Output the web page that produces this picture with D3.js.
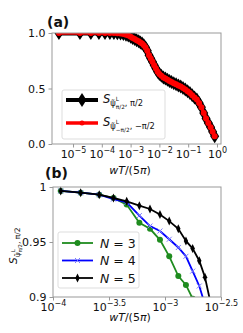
<!DOCTYPE html>
<html>
<head>
<meta charset="utf-8">
<script src="https://cdn.jsdelivr.net/npm/d3@7"></script>
<style>
  body { margin: 0; background: #fff; }
  text { font-family: "DejaVu Sans", sans-serif; fill: #111; }
</style>
</head>
<body>
<div id="fig"></div>
<script>
// panel (a): S vs wT/(5pi), log x
var wA = [3.24e-6, 1.74e-5, 4.17e-5, 7.94e-5, 1.29e-4, 1.91e-4, 2.63e-4, 3.47e-4, 4.47e-4, 5.62e-4,
          6.92e-4, 8.32e-4, 1.0e-3, 1.17e-3, 1.38e-3, 1.62e-3, 1.91e-3, 2.19e-3, 2.51e-3, 2.88e-3,
          3.31e-3, 3.80e-3, 4.37e-3, 5.01e-3, 5.75e-3, 6.61e-3, 7.59e-3, 8.71e-3, 0.0100, 0.0117,
          0.0138, 0.0162, 0.0191, 0.0224, 0.0263, 0.0316, 0.0380, 0.0457, 0.0550, 0.0661,
          0.0794, 0.0955, 0.115, 0.138, 0.166, 0.200, 0.240, 0.288, 0.347, 0.417,
          0.501, 0.603, 0.708, 0.832];
var sPlus = [1, 1, 1, 1, 1, 1, 1, 0.998, 0.995, 0.99,
             0.985, 0.977, 0.967, 0.955, 0.945, 0.935, 0.925, 0.915, 0.905, 0.89,
             0.87, 0.84, 0.80, 0.77, 0.74, 0.71, 0.68, 0.65, 0.63, 0.615,
             0.60, 0.59, 0.578, 0.568, 0.558, 0.548, 0.538, 0.528, 0.518, 0.505,
             0.49, 0.475, 0.46, 0.44, 0.42, 0.40, 0.37, 0.33, 0.28, 0.23,
             0.19, 0.15, 0.11, 0.07];
var sMinus = [1, 1, 1, 1, 1, 1, 1, 0.998, 0.995, 0.99,
              0.985, 0.977, 0.967, 0.955, 0.945, 0.935, 0.925, 0.915, 0.905, 0.89,
              0.87, 0.84, 0.80, 0.77, 0.74, 0.71, 0.68, 0.65, 0.63, 0.615,
              0.60, 0.59, 0.578, 0.568, 0.558, 0.548, 0.538, 0.528, 0.518, 0.505,
              0.49, 0.475, 0.46, 0.44, 0.42, 0.40, 0.37, 0.33, 0.28, 0.23,
              0.19, 0.15, 0.11, 0.07];
var ticksA = [-5, -4, -3, -2, -1, 0];
var yTicksA = [0, 0.5, 1];

// panel (b): zoom for N = 3, 4, 5
var wB = [1.172e-4, 1.766e-4, 2.588e-4, 3.467e-4, 4.550e-4, 5.902e-4, 7.345e-4, 9.016e-4,
          1.091e-3, 1.315e-3, 1.538e-3, 1.766e-3, 2.023e-3, 2.275e-3, 2.547e-3];
var sN3 = [0.9964, 0.9948, 0.993, 0.990, 0.984, 0.9675, 0.962, 0.952, 0.937, 0.919, 0.911, 0.8985];
var sN4 = [0.9964, 0.9948, 0.993, 0.989, 0.986, 0.974, 0.9645, 0.960, 0.9525, 0.945, 0.937, 0.9235, 0.910, 0.893];
var sN5 = [0.9964, 0.9948, 0.993, 0.990, 0.987, 0.983, 0.980, 0.975, 0.969, 0.962, 0.951, 0.944, 0.933, 0.918, 0.895];
var ticksB = ["-4", "-3.5", "-3", "-2.5"];
var yTicksB = [0.9, 0.95, 1];
var legB = ["N = 3", "N = 4", "N = 5"];

var svg = d3.select("#fig").append("svg")
    .attr("width", 243)
    .attr("height", 333);

var spine = "#999";

function sLabel(t, fs, subA, subB) {
  t.append("tspan").attr("font-style", "italic").attr("font-size", fs).text("S");
  t.append("tspan").attr("font-size", fs * 0.72).attr("dy", fs * 0.3).text("ψ̃");
  t.append("tspan").attr("font-size", fs * 0.5).attr("dy", -fs * 0.45).text("L");
  t.append("tspan").attr("font-size", fs * 0.5).attr("dx", -fs * 0.28).attr("dy", fs * 0.65).text(subA);
  t.append("tspan").attr("font-size", fs * 0.72).attr("dy", -fs * 0.2).text(", " + subB);
}

function powLabel(g, e) {
  var t = g.append("text").attr("y", 14).attr("text-anchor", "middle").attr("font-size", 11);
  t.append("tspan").text("10");
  t.append("tspan").attr("font-size", 8).attr("dy", -5).text(e.replace("-", "\u2212"));
}

function diamond(sel, hw, hh) {
  return sel.append("path").attr("d", "M0," + (-hh) + "L" + hw + ",0L0," + hh + "L" + (-hw) + ",0Z");
}

// ---------- panel (a)
var A = {l: 52, r: 221, t: 33, b: 144};
var xa = d3.scaleLog().domain([Math.pow(10, -5.73), Math.pow(10, 0.14)]).range([A.l, A.r]);
var ya = d3.scaleLinear().domain([0, 1]).range([A.b, A.t]);

svg.append("clipPath").attr("id", "clipA").append("rect")
    .attr("x", A.l).attr("y", A.t).attr("width", A.r - A.l).attr("height", A.b - A.t);

var gA = svg.append("g").attr("clip-path", "url(#clipA)");
var ptsA = wA.map(function(w, i) { return [w, sPlus[i], sMinus[i]]; });

gA.append("path").datum(ptsA)
    .attr("fill", "none").attr("stroke", "#000").attr("stroke-width", 5)
    .attr("d", d3.line().x(function(d) { return xa(d[0]); }).y(function(d) { return ya(d[1]); }));
gA.selectAll(".dA").data(ptsA).enter().append("g")
    .attr("transform", function(d) { return "translate(" + xa(d[0]) + "," + ya(d[1]) + ")"; })
    .each(function() { diamond(d3.select(this), 4.5, 7).attr("fill", "#000"); });
gA.append("path").datum(ptsA)
    .attr("fill", "none").attr("stroke", "#f00").attr("stroke-width", 3.5)
    .attr("d", d3.line().x(function(d) { return xa(d[0]); }).y(function(d) { return ya(d[2]); }));
gA.selectAll(".rA").data(ptsA).enter().append("circle")
    .attr("cx", function(d) { return xa(d[0]); })
    .attr("cy", function(d) { return ya(d[2]); })
    .attr("r", 3).attr("fill", "#f00");

svg.append("rect").attr("x", A.l).attr("y", A.t).attr("width", A.r - A.l).attr("height", A.b - A.t)
    .attr("fill", "none").attr("stroke", spine);

var axA = svg.append("g").attr("transform", "translate(0," + A.b + ")")
    .call(d3.axisBottom(xa).tickValues(ticksA.map(function(e) { return Math.pow(10, e); }))
      .tickSize(3.5).tickFormat(""));
axA.select(".domain").remove();
axA.selectAll(".tick line").attr("stroke", spine);
axA.selectAll(".tick").each(function(d, i) { powLabel(d3.select(this), String(ticksA[i])); });

var ayA = svg.append("g").attr("transform", "translate(" + A.l + ",0)")
    .call(d3.axisLeft(ya).tickValues(yTicksA).tickSize(3.5).tickFormat(d3.format(".1f")));
ayA.select(".domain").remove();
ayA.selectAll(".tick line").attr("stroke", spine);
ayA.selectAll(".tick text").attr("font-size", 11).attr("font-family", "DejaVu Sans").attr("fill", "#111");

svg.append("text").attr("x", 47).attr("y", 27).attr("font-size", 14).attr("font-weight", "bold").text("(a)");

// legend (a)
svg.append("rect").attr("x", 62).attr("y", 90).attr("width", 103).attr("height", 49).attr("rx", 2)
    .attr("fill", "#fff").attr("fill-opacity", 0.8).attr("stroke", "#ddd");
svg.append("line").attr("x1", 66).attr("x2", 98).attr("y1", 100).attr("y2", 100)
    .attr("stroke", "#000").attr("stroke-width", 4);
diamond(svg.append("g").attr("transform", "translate(82,100)"), 4.5, 7).attr("fill", "#000");
svg.append("line").attr("x1", 66).attr("x2", 98).attr("y1", 123).attr("y2", 123)
    .attr("stroke", "#f00").attr("stroke-width", 3.5);
svg.append("circle").attr("cx", 82).attr("cy", 123).attr("r", 2.5).attr("fill", "#f00");
sLabel(svg.append("text").attr("x", 103).attr("y", 103), 11.5, "π/2", "π/2");
sLabel(svg.append("text").attr("x", 103).attr("y", 126), 11.5, "\u2212π/2", "\u2212π/2");

svg.append("text").attr("x", 130).attr("y", 174).attr("text-anchor", "middle").attr("font-size", 11)
    .html("<tspan font-style='italic'>wT</tspan>/(5<tspan font-style='italic'>π</tspan>)");

// ---------- panel (b)
var B = {l: 53, r: 221, t: 187, b: 297};
var xb = d3.scaleLog().domain([1e-4, Math.pow(10, -2.5)]).range([B.l, B.r]);
var yb = d3.scaleLinear().domain([0.9, 1]).range([B.b, B.t]);

svg.append("clipPath").attr("id", "clipB").append("rect")
    .attr("x", B.l).attr("y", B.t - 4).attr("width", B.r - B.l).attr("height", B.b - B.t + 4);

var gB = svg.append("g").attr("clip-path", "url(#clipB)");
var lineB = function(ys) {
  return d3.line().x(function(d, i) { return xb(wB[i]); }).y(function(d) { return yb(d); })(ys);
};
var series = [
  {s: sN3, c: "#1f8c1f", m: "o"},
  {s: sN4, c: "#0000ff", m: "x"},
  {s: sN5, c: "#000", m: "d"}
];

function marker(sel, m, c) {
  if (m === "o") sel.append("circle").attr("r", 3).attr("fill", c);
  else if (m === "x") sel.append("path").attr("d", "M-2.5,-2.5L2.5,2.5M-2.5,2.5L2.5,-2.5")
      .attr("stroke", "#7b7bff").attr("stroke-width", 1);
  else diamond(sel, 2.2, 4.5).attr("fill", c);
}

series.forEach(function(sr) {
  gB.append("path").attr("d", lineB(sr.s)).attr("fill", "none")
      .attr("stroke", sr.c).attr("stroke-width", 1.8);
  gB.selectAll(null).data(sr.s).enter().append("g")
      .attr("transform", function(d, i) { return "translate(" + xb(wB[i]) + "," + yb(d) + ")"; })
      .each(function() { marker(d3.select(this), sr.m, sr.c); });
});

svg.append("rect").attr("x", B.l).attr("y", B.t).attr("width", B.r - B.l).attr("height", B.b - B.t)
    .attr("fill", "none").attr("stroke", spine);

var axB = svg.append("g").attr("transform", "translate(0," + B.b + ")")
    .call(d3.axisBottom(xb).tickValues(ticksB.map(function(e) { return Math.pow(10, +e); }))
      .tickSize(3.5).tickFormat(""));
axB.select(".domain").remove();
axB.selectAll(".tick line").attr("stroke", spine);
axB.selectAll(".tick").each(function(d, i) { powLabel(d3.select(this), ticksB[i]); });

var ayB = svg.append("g").attr("transform", "translate(" + B.l + ",0)")
    .call(d3.axisLeft(yb).tickValues(yTicksB).tickSize(3.5).tickFormat(d3.format("")));
ayB.select(".domain").remove();
ayB.selectAll(".tick line").attr("stroke", spine);
ayB.selectAll(".tick text").attr("font-size", 11).attr("font-family", "DejaVu Sans").attr("fill", "#111");

svg.append("text").attr("x", 45).attr("y", 178).attr("font-size", 14).attr("font-weight", "bold").text("(b)");

svg.append("text").attr("x", 130).attr("y", 321).attr("text-anchor", "middle").attr("font-size", 11)
    .html("<tspan font-style='italic'>wT</tspan>/(5<tspan font-style='italic'>π</tspan>)");

sLabel(svg.append("text").attr("transform", "translate(17,264) rotate(-90)"), 10.5, "π/2", "π/2");

// legend (b)
svg.append("rect").attr("x", 58).attr("y", 232).attr("width", 81).attr("height", 56).attr("rx", 2)
    .attr("fill", "#fff").attr("fill-opacity", 0.8).attr("stroke", "#ddd");
series.forEach(function(sr, i) {
  var y = 243 + i * 17.5;
  svg.append("line").attr("x1", 62).attr("x2", 93).attr("y1", y).attr("y2", y)
      .attr("stroke", sr.c).attr("stroke-width", 1.8);
  marker(svg.append("g").attr("transform", "translate(77.5," + y + ")"), sr.m, sr.c);
  var t = svg.append("text").attr("x", 100).attr("y", y + 4.5).attr("font-size", 12.5);
  t.append("tspan").attr("font-style", "italic").text(legB[i].split(" ")[0]);
  t.append("tspan").text(" " + legB[i].split(" ").slice(1).join(" "));
});
</script>
</body>
</html>
